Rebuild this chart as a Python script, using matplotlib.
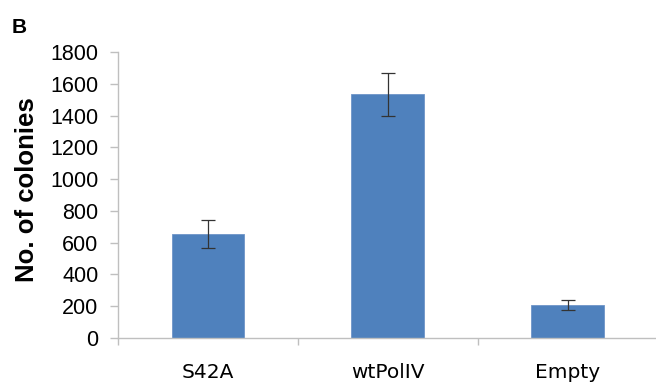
import matplotlib.pyplot as plt
import numpy as np

categories = ["S42A", "wtPolIV", "Empty"]
colonies = [654, 1535, 208]
errors = [88, 135, 33]
y_ticks = [0, 200, 400, 600, 800, 1000, 1200, 1400, 1600, 1800]

fig = plt.figure(figsize=(6.56, 3.83), dpi=100)
ax = fig.add_axes([118 / 656, 1 - 338 / 383, 1 - 118 / 656, (338 - 52) / 383])

x = np.arange(len(categories))
ax.bar(x, colonies, width=0.405, color="#4F81BD", edgecolor="#6E95C8", linewidth=0.6, zorder=2)
ax.errorbar(x, colonies, yerr=errors, fmt="none", ecolor="#333333", elinewidth=0.9,
            capsize=4.7, capthick=0.9, zorder=3)

ax.set_xlim(-0.5, 2.49)
ax.set_ylim(0, 1800)
ax.set_yticks(y_ticks)
ax.set_yticklabels([str(v) for v in y_ticks], fontfamily="Liberation Sans", fontsize=15.5)

ax.set_xticks(x)
ax.set_xticklabels(categories, fontfamily="DejaVu Sans", fontsize=14.5)
ax.set_xticks([-0.5, 0.5, 1.5], minor=True)
ax.tick_params(axis="x", which="major", length=0, pad=18)
ax.tick_params(axis="x", which="minor", length=5, color="#BFBFBF", width=1)
ax.tick_params(axis="y", length=6, color="#BFBFBF", width=1, pad=8)

for side in ["top", "right"]:
    ax.spines[side].set_visible(False)
for side in ["left", "bottom"]:
    ax.spines[side].set_color("#BFBFBF")
    ax.spines[side].set_linewidth(1)

fig.text(27 / 656, 1 - 190 / 383, "No. of colonies", rotation=90, ha="center", va="center",
         fontfamily="Liberation Sans", fontweight="bold", fontsize=18.5)
fig.text(12 / 656, 1 - 33 / 383, "B", ha="left", va="baseline",
         fontfamily="Liberation Sans", fontweight="bold", fontsize=15)

fig.savefig("out.png", dpi=100)
